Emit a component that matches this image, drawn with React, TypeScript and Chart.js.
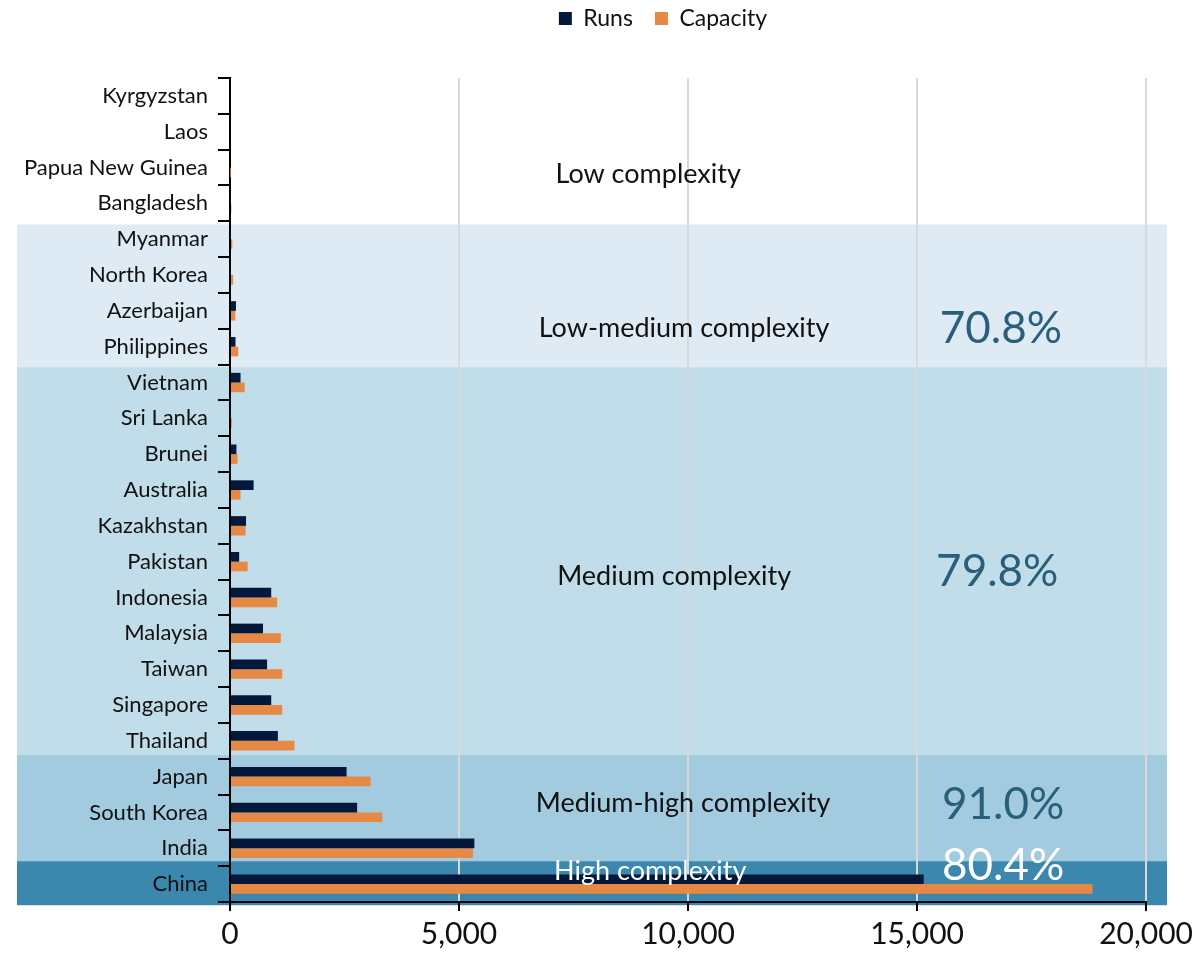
import React, { useEffect, useRef } from "react";
import { Chart, registerables } from "chart.js";

Chart.register(...registerables);

const categories = [
  "Kyrgyzstan", "Laos", "Papua New Guinea", "Bangladesh", "Myanmar", "North Korea",
  "Azerbaijan", "Philippines", "Vietnam", "Sri Lanka", "Brunei", "Australia",
  "Kazakhstan", "Pakistan", "Indonesia", "Malaysia", "Taiwan", "Singapore",
  "Thailand", "Japan", "South Korea", "India", "China",
];
const runs = [0, 0, 0, 5, 10, 15, 130, 120, 230, 5, 140, 515, 350, 200, 900, 720, 810, 900, 1045, 2545, 2775, 5335, 15145];
const capacity = [0, 0, 5, 30, 50, 70, 115, 180, 320, 40, 165, 230, 340, 385, 1030, 1110, 1140, 1140, 1410, 3070, 3325, 5305, 18830];
const xTicks = [0, 5000, 10000, 15000, 20000];

const bandNames = ["Low complexity", "Low-medium complexity", "Medium complexity", "Medium-high complexity", "High complexity"];
const bandShares = ["", "70.8%", "79.8%", "91.0%", "80.4%"];
// band extents in category-index units
const bandFrom = [-0.5, 3.59, 7.57, 18.39, 21.36];
const bandTo = [3.59, 7.57, 18.39, 21.36, 22.59];

const bandColors = ["rgba(0,0,0,0)", "#deebf5", "#c1dde9", "#a3cbe0", "#3c87ad"];
const bandTextColors = ["#111111", "#111111", "#111111", "#111111", "#ffffff"];
const shareColors = ["#2a5f7b", "#2a5f7b", "#2a5f7b", "#2a5f7b", "#ffffff"];
const nameY = [2.2, 6.5, 13.4, 19.75, 21.64];
const nameX = [9130, 9913, 9696, 9891, 9174];
const shareY = [0, 6.5, 13.27, 19.8, 21.5];
const shareX = [0, 16830, 16750, 16880, 16880];

const FONT = "Lato, 'Open Sans', sans-serif";

const bandsPlugin = {
  id: "bands",
  beforeDraw(chart: any) {
    const { ctx } = chart;
    const y = chart.scales.y;
    ctx.save();
    for (let i = 0; i < bandNames.length; i++) {
      const top = y.getPixelForValue(bandFrom[i]);
      const bot = y.getPixelForValue(bandTo[i]);
      ctx.fillStyle = bandColors[i];
      ctx.fillRect(17, top, 1167 - 17, bot - top);
    }
    ctx.restore();
  },
  afterDatasetsDraw(chart: any) {
    const { ctx } = chart;
    const x = chart.scales.x;
    const y = chart.scales.y;
    ctx.save();
    ctx.textAlign = "center";
    ctx.textBaseline = "middle";
    for (let i = 0; i < bandNames.length; i++) {
      ctx.font = `27px ${FONT}`;
      ctx.fillStyle = bandTextColors[i];
      ctx.fillText(bandNames[i], x.getPixelForValue(nameX[i]), y.getPixelForValue(nameY[i]));
      if (bandShares[i]) {
        ctx.font = `44px ${FONT}`;
        ctx.fillStyle = shareColors[i];
        ctx.fillText(bandShares[i], x.getPixelForValue(shareX[i]), y.getPixelForValue(shareY[i]));
      }
    }
    ctx.restore();
  },
  afterLayout(chart: any) {
    const lg = chart.legend;
    if (lg) {
      lg.left = 128;
      lg.right = 1198;
      lg.top = -15;
    }
  },
};

export default function App() {
  const ref = useRef<HTMLCanvasElement>(null);
  useEffect(() => {
    if (!ref.current) return;
    const chart = new Chart(ref.current, {
      type: "bar",
      data: {
        labels: categories,
        datasets: [
          { label: "Runs", data: runs, backgroundColor: "#03183a", categoryPercentage: 0.54, barPercentage: 1 },
          { label: "Capacity", data: capacity, backgroundColor: "#e68945", categoryPercentage: 0.54, barPercentage: 1 },
        ],
      },
      options: {
        indexAxis: "y",
        animation: false,
        responsive: false,
        maintainAspectRatio: false,
        layout: { padding: { left: 0, right: 48, top: 23, bottom: 0 } },
        plugins: {
          legend: {
            position: "top",
            labels: {
              font: { family: FONT, size: 23 },
              color: "#111",
              boxWidth: 13,
              boxHeight: 13,
              padding: 22,
            },
          },
          tooltip: { enabled: false },
        },
        scales: {
          x: {
            min: 0,
            max: 20000,
            afterBuildTicks: (axis: any) => {
              axis.ticks = xTicks.map((v) => ({ value: v }));
            },
            afterFit: (axis: any) => {
              axis.height = 58;
            },
            ticks: {
              font: { family: FONT, size: 30 },
              color: "#111",
              padding: 5,
              callback: (v: any) => Number(v).toLocaleString("en-US"),
            },
            grid: { color: "#d9d9d9", lineWidth: 2, tickColor: "#000", tickLength: 9, drawTicks: true },
            border: { color: "#000", width: 2 },
          },
          y: {
            afterFit: (axis: any) => {
              axis.width = 230;
            },
            ticks: { font: { family: FONT, size: 22 }, color: "#111", padding: 10 },
            grid: { drawOnChartArea: false, drawTicks: true, tickLength: 12, color: "#000", lineWidth: 2 },
            border: { color: "#000", width: 2 },
          },
        },
      },
      plugins: [bandsPlugin],
    });
    return () => chart.destroy();
  }, []);
  return (
    <div style={{ position: "absolute", left: 0, top: 0, width: 1198, height: 960 }}>
      <canvas ref={ref} width={1198} height={960} style={{ width: 1198, height: 960 }} />
    </div>
  );
}
